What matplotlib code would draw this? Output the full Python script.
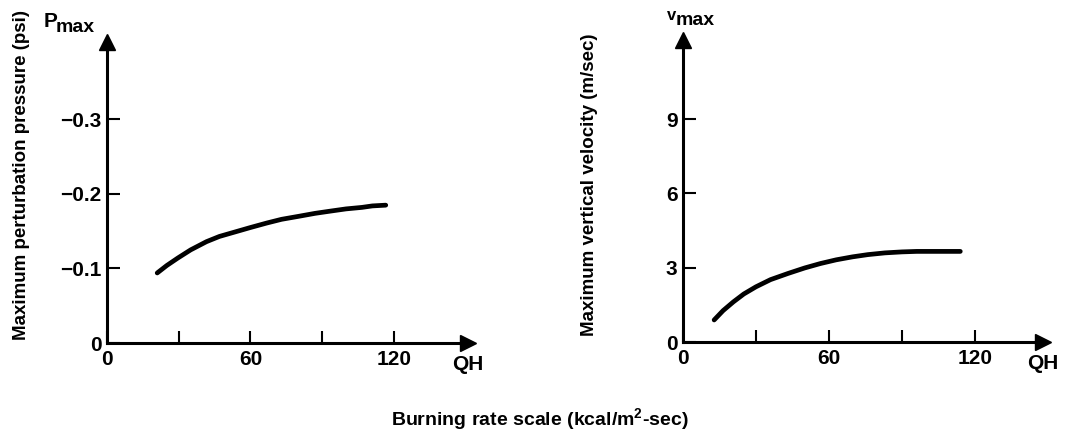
import matplotlib
matplotlib.use('Agg')
import matplotlib.pyplot as plt

plt.rcParams['font.family'] = ['Liberation Sans', 'DejaVu Sans']
plt.rcParams['font.weight'] = 'bold'
plt.rcParams['mathtext.fontset'] = 'custom'
plt.rcParams['mathtext.rm'] = 'Liberation Sans:bold'

# Left panel: maximum perturbation pressure vs burning rate
qh_p = [21, 25, 29.6, 35, 41.6, 47, 53.5, 60, 66.8, 73, 80.1, 87, 93.4, 100, 106.6, 111, 116.6]
p_max = [-0.094, -0.104, -0.114, -0.125, -0.136, -0.143, -0.149, -0.155, -0.161,
         -0.166, -0.170, -0.174, -0.177, -0.180, -0.182, -0.184, -0.185]
p_ticks = [0, -0.1, -0.2, -0.3]
p_ticklabels = ['0', '\u22120.1', '\u22120.2', '\u22120.3']

# Right panel: maximum vertical velocity vs burning rate
qh_v = [12.8, 16.5, 20.7, 25, 30, 36, 43.2, 50, 56.5, 63, 69.7, 76, 83, 90, 96.1, 105, 114]
v_max = [0.89, 1.27, 1.62, 1.94, 2.23, 2.52, 2.77, 2.99, 3.17, 3.32, 3.44, 3.53,
         3.60, 3.64, 3.66, 3.66, 3.66]
v_ticks = [0, 3, 6, 9]
v_ticklabels = ['0', '3', '6', '9']

x_ticks = [0, 30, 60, 90, 120]
x_ticklabels = ['0', '', '60', '', '120']

W, H = 1084, 440
fig = plt.figure(figsize=(W / 100, H / 100), dpi=100)


def make_axes(rect, xmax, ylim, qh, vals, yticks, yticklabels):
    ax = fig.add_axes(rect)
    ax.plot(qh, vals, color='black', lw=3.4, solid_capstyle='round')
    ax.set_xlim(0, xmax)
    ax.set_ylim(*ylim)
    for s in ['top', 'right']:
        ax.spines[s].set_visible(False)
    for s in ['left', 'bottom']:
        ax.spines[s].set_linewidth(2.2)
    ax.set_xticks(x_ticks)
    ax.set_xticklabels(x_ticklabels)
    ax.set_yticks(yticks)
    ax.set_yticklabels(yticklabels)
    ax.tick_params(direction='in', length=9, width=1.5, labelsize=15, pad=4)
    ax.tick_params(axis='x', pad=5)
    # arrow heads on the axes
    ax.plot(1, 0, '>k', ms=12, transform=ax.get_yaxis_transform(), clip_on=False)
    ax.plot(0, 1, '^k', ms=12, transform=ax.get_xaxis_transform(), clip_on=False)
    ax.text(1.0, -0.04, 'QH', transform=ax.transAxes, fontsize=15,
            ha='center', va='top')
    return ax


ax1 = make_axes([107 / W, 97 / H, 361 / W, 301 / H], 151, (0, -0.404),
                qh_p, p_max, p_ticks, p_ticklabels)
ax2 = make_axes([683 / W, 98 / H, 360 / W, 302 / H], 148, (0, 12.2),
                qh_v, v_max, v_ticks, v_ticklabels)

fig.text(44 / W, 1 - 27 / H, 'P', fontsize=15, ha='left', va='baseline')
fig.text(56 / W, 1 - 32 / H, 'max', fontsize=14, ha='left', va='baseline')
fig.text(667 / W, 1 - 20 / H, 'v', fontsize=12, ha='left', va='baseline')
fig.text(676 / W, 1 - 25 / H, 'max', fontsize=14, ha='left', va='baseline')

fig.text(22 / W, 1 - 175 / H, 'Maximum perturbation pressure (psi)',
         rotation=90, fontsize=13.5, ha='center', va='center')
fig.text(590 / W, 1 - 185 / H, 'Maximum vertical velocity (m/sec)',
         rotation=90, fontsize=13.5, ha='center', va='center')
fig.text(540 / W, 1 - 420 / H, r'Burning rate scale (kcal/m$^{\mathrm{2}}$-sec)',
         fontsize=14, ha='center', va='center')

plt.savefig('out.png', dpi=100)
